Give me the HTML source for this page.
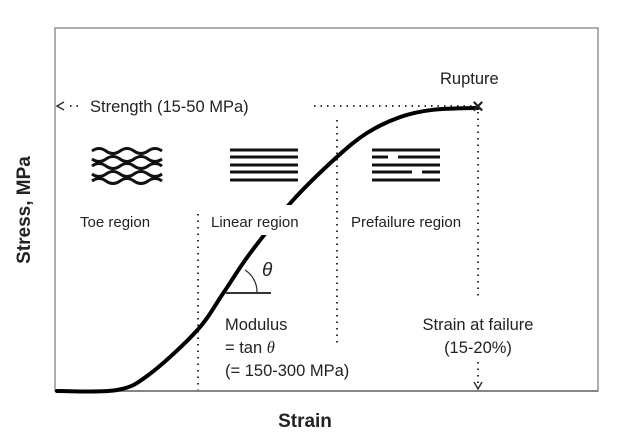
<!DOCTYPE html>
<html><head><meta charset="utf-8"><style>
html,body{margin:0;padding:0;background:#fff;}
svg text{font-family:"Liberation Sans",sans-serif;fill:#222;}
</style></head><body>
<svg width="619" height="442" viewBox="0 0 619 442">
<rect x="55" y="28" width="543" height="363" fill="none" stroke="#777" stroke-width="1.2"/>
<line x1="55" y1="391" x2="598" y2="391" stroke="#666" stroke-width="1.5"/>
<text x="30" y="210" transform="rotate(-90 30 210)" text-anchor="middle" font-size="19" font-weight="bold">Stress, MPa</text>
<text x="305" y="427" text-anchor="middle" font-size="19" font-weight="bold">Strain</text>
<g stroke="#333" stroke-width="2" stroke-dasharray="1.5 5" fill="none">
<line x1="70" y1="106" x2="82" y2="106"/>
<line x1="314" y1="106" x2="474" y2="106"/>
<line x1="198" y1="214" x2="198" y2="390"/>
<line x1="337" y1="120" x2="337" y2="345"/>
<line x1="478" y1="112" x2="478" y2="300"/>
<line x1="478" y1="362" x2="478" y2="385"/>
</g>
<path d="M64 102 L57 106 L64 110" fill="none" stroke="#333" stroke-width="1.5"/>
<path d="M474 382 L478 389 L482 382" fill="none" stroke="#333" stroke-width="1.5"/>
<text x="90" y="112" font-size="16.5">Strength (15-50 MPa)</text>
<text x="440" y="84" font-size="16.5">Rupture</text>
<path id="curve" fill="none" stroke="#000" stroke-width="4" stroke-linecap="round"/>
<text x="478" y="113" text-anchor="middle" font-size="20" font-weight="bold">×</text>
<g fill="none" stroke="#111" stroke-width="3">
<path d="M92 151 q7 -5 14 0 t14 0 t14 0 t14 0 t14 0"/>
<path d="M92 159 q7 5 14 0 t14 0 t14 0 t14 0 t14 0"/>
<path d="M92 166 q7 -5 14 0 t14 0 t14 0 t14 0 t14 0"/>
<path d="M92 174 q7 5 14 0 t14 0 t14 0 t14 0 t14 0"/>
<path d="M92 181 q7 -5 14 0 t14 0 t14 0 t14 0 t14 0"/>
</g>
<g stroke="#111" stroke-width="3">
<line x1="230" y1="150" x2="298" y2="150"/><line x1="230" y1="157" x2="298" y2="157"/><line x1="230" y1="165" x2="298" y2="165"/><line x1="230" y1="172" x2="298" y2="172"/><line x1="230" y1="180" x2="298" y2="180"/>
</g>
<g stroke="#111" stroke-width="3">
<line x1="372" y1="150" x2="440" y2="150"/>
<line x1="372" y1="157" x2="388" y2="157"/><line x1="398" y1="157" x2="440" y2="157"/>
<line x1="372" y1="165" x2="440" y2="165"/>
<line x1="372" y1="172" x2="412" y2="172"/><line x1="422" y1="172" x2="440" y2="172"/>
<line x1="372" y1="180" x2="440" y2="180"/>
</g>
<rect x="208" y="205" width="120" height="30" fill="#fff"/>
<text x="80" y="227" font-size="15">Toe region</text>
<text x="211" y="227" font-size="15">Linear region</text>
<text x="351" y="227" font-size="15">Prefailure region</text>
<line x1="226" y1="293" x2="271" y2="293" stroke="#333" stroke-width="2"/>
<path d="M245 270 A26 26 0 0 1 257 293" fill="none" stroke="#333" stroke-width="1.3"/>
<text x="262" y="276" font-size="19" font-style="italic" font-family="Liberation Serif">θ</text>
<text x="225" y="330" font-size="16.5">Modulus</text>
<text x="225" y="353" font-size="16.5">= tan <tspan font-style="italic" font-family="Liberation Serif">θ</tspan></text>
<text x="225" y="376" font-size="16.5">(= 150-300 MPa)</text>
<text x="478" y="330" text-anchor="middle" font-size="16.5">Strain at failure</text>
<text x="478" y="353" text-anchor="middle" font-size="16.5">(15-20%)</text>
</svg>
<script>
const strainVals=[0,0.06,0.093,0.14,0.166,0.193,0.236,0.28,0.31,0.343,0.376,0.421];
const stressVals=[0,0.003,0.054,0.19,0.306,0.432,0.599,0.735,0.81,0.86,0.883,0.889];
function sx(v){return 57+v*1000;}
function sy(v){return 391-v*318.5;}
const pts=strainVals.map((s,i)=>[sx(s),sy(stressVals[i])]);
let d='M'+pts[0][0].toFixed(1)+' '+pts[0][1].toFixed(1);
for(let i=0;i<pts.length-1;i++){
  const p0=pts[Math.max(0,i-1)],p1=pts[i],p2=pts[i+1],p3=pts[Math.min(pts.length-1,i+2)];
  const c1=[p1[0]+(p2[0]-p0[0])/6,p1[1]+(p2[1]-p0[1])/6];
  const c2=[p2[0]-(p3[0]-p1[0])/6,p2[1]-(p3[1]-p1[1])/6];
  d+=' C'+c1.map(v=>v.toFixed(1)).join(' ')+' '+c2.map(v=>v.toFixed(1)).join(' ')+' '+p2.map(v=>v.toFixed(1)).join(' ');
}
const p=document.getElementById('curve');
p.setAttribute('d',d);
</script>
</body></html>
